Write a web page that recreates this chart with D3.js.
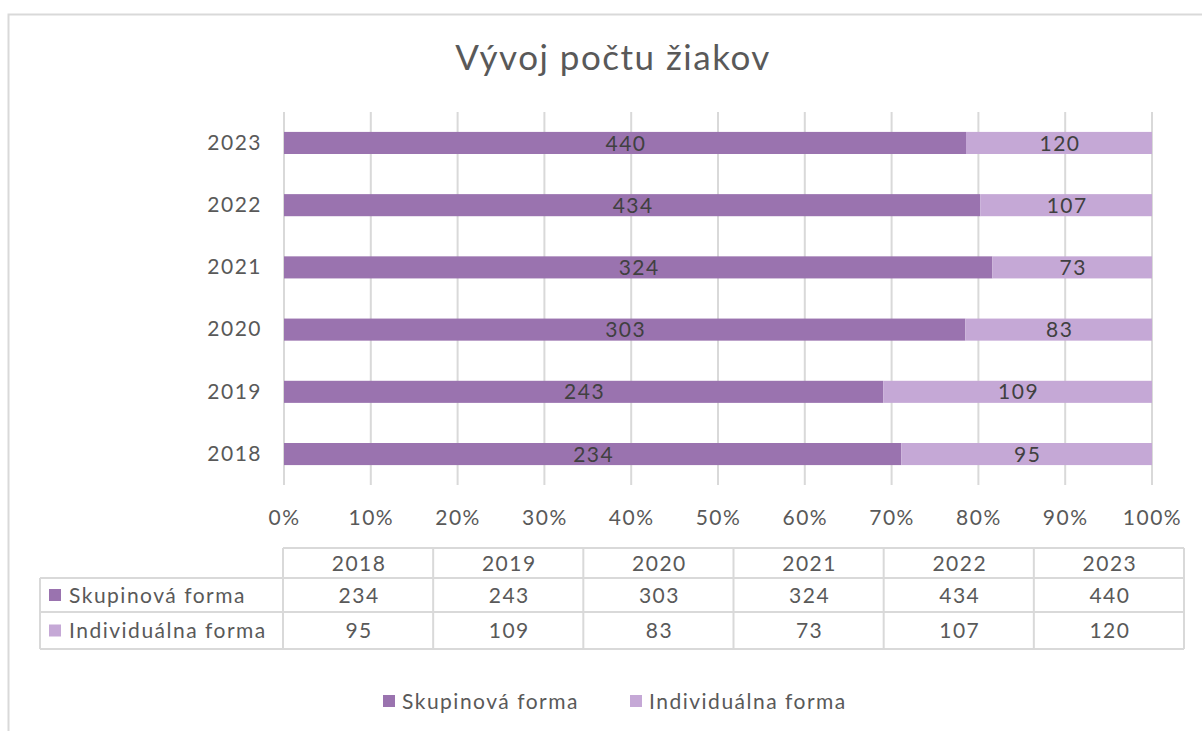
<!DOCTYPE html>
<html>
<head>
<meta charset="utf-8">
<script src="https://cdn.jsdelivr.net/npm/d3@7"></script>
<style>
  body { margin: 0; background: #fff; }
  text { font-family: Lato, "Open Sans", sans-serif; letter-spacing: 1.5px; }
</style>
</head>
<body>
<svg id="vis"></svg>
<script>
const WIDTH = 1202;
const HEIGHT = 731;

// data
const years = ["2018", "2019", "2020", "2021", "2022", "2023"];
const skupinova = [234, 243, 303, 324, 434, 440];
const individualna = [95, 109, 83, 73, 107, 120];
const seriesNames = ["Skupinová forma", "Individuálna forma"];
const colors = ["#9a73af", "#c5a8d6"];

const FS = 21; // font size for labels

const svg = d3.select("#vis")
    .attr("width", WIDTH)
    .attr("height", HEIGHT);

// chart border
svg.append("rect")
    .attr("x", 8.5).attr("y", 14.5)
    .attr("width", 1200).attr("height", 730)
    .attr("fill", "none")
    .attr("stroke", "#d9d9d9")
    .attr("stroke-width", 2);

// title
svg.append("text")
    .attr("x", 613).attr("y", 70)
    .attr("text-anchor", "middle")
    .attr("font-size", 35)
    .attr("letter-spacing", "1.3px")
    .attr("fill", "#595959")
    .text("Vývoj počtu žiakov");

// scales
const x = d3.scaleLinear().domain([0, 1]).range([284, 1152]);
const y = d3.scaleBand().domain(years.slice().reverse()).range([112, 485])
    .paddingInner(0.645).paddingOuter(0.32);

// gridlines
svg.append("g")
    .selectAll("line")
    .data(x.ticks(10))
    .join("line")
    .attr("x1", d => x(d)).attr("x2", d => x(d))
    .attr("y1", 112).attr("y2", 485)
    .attr("stroke", "#d9d9d9")
    .attr("stroke-width", 2);

// x axis
const ejeX = d3.axisBottom(x).ticks(10).tickFormat(d3.format(".0%")).tickSize(0);
const gx = svg.append("g")
    .attr("transform", "translate(0,485)")
    .call(ejeX);
gx.select(".domain").remove();
gx.selectAll("text")
    .attr("dy", 0)
    .attr("y", 40)
    .attr("font-size", FS)
    .attr("fill", "#595959")
    .attr("font-family", "Lato, sans-serif");

// y axis labels
const ejeY = d3.axisLeft(y).tickSize(0).tickPadding(22);
const gy = svg.append("g")
    .attr("transform", "translate(284,0)")
    .call(ejeY);
gy.select(".domain").remove();
gy.selectAll("text")
    .attr("font-size", FS)
    .attr("fill", "#595959")
    .attr("font-family", "Lato, sans-serif");

// stacked data (100%)
const rows = years.map((yr, i) => ({ year: yr, s: skupinova[i], ind: individualna[i] }));
const stack = d3.stack()
    .keys(["s", "ind"])
    .offset(d3.stackOffsetExpand);
const stacked = stack(rows);

const barsG = svg.append("g");
stacked.forEach((layer, li) => {
    const g = barsG.append("g");
    g.selectAll("rect")
        .data(layer)
        .join("rect")
        .attr("x", d => x(d[0]))
        .attr("y", d => y(d.data.year))
        .attr("width", d => x(d[1]) - x(d[0]))
        .attr("height", y.bandwidth())
        .attr("fill", colors[li]);
    g.selectAll("text")
        .data(layer)
        .join("text")
        .attr("x", d => (x(d[0]) + x(d[1])) / 2 + 1)
        .attr("y", d => y(d.data.year) + y.bandwidth() / 2)
        .attr("dy", "0.36em")
        .attr("text-anchor", "middle")
        .attr("font-size", FS)
        .attr("fill", "#404040")
        .text(d => d.data[layer.key]);
});

// data table
const tx = d3.scaleBand().domain(years).range([283, 1184]);
const tableLeft = 40;
const rowY = [548, 578, 612, 649];
const border = "#d9d9d9";
const tableG = svg.append("g");

// horizontal lines
tableG.append("line").attr("x1", tx.range()[0]).attr("x2", tx.range()[1])
    .attr("y1", rowY[0]).attr("y2", rowY[0]);
[1, 2, 3].forEach(i => {
    tableG.append("line").attr("x1", tableLeft).attr("x2", tx.range()[1])
        .attr("y1", rowY[i]).attr("y2", rowY[i]);
});
// vertical lines
tableG.append("line").attr("x1", tableLeft).attr("x2", tableLeft)
    .attr("y1", rowY[1]).attr("y2", rowY[3]);
years.concat(["end"]).forEach((yr, i) => {
    const xx = i < years.length ? tx(yr) : tx.range()[1];
    tableG.append("line").attr("x1", xx).attr("x2", xx)
        .attr("y1", rowY[0]).attr("y2", rowY[3]);
});
tableG.selectAll("line").attr("stroke", border).attr("stroke-width", 2);

// header
tableG.selectAll("text.hdr")
    .data(years)
    .join("text")
    .attr("class", "hdr")
    .attr("x", d => tx(d) + tx.bandwidth() / 2 + 1)
    .attr("y", (rowY[0] + rowY[1]) / 2)
    .attr("dy", "0.36em")
    .attr("text-anchor", "middle")
    .attr("font-size", FS)
    .attr("fill", "#595959")
    .text(d => d);

[skupinova, individualna].forEach((vals, si) => {
    const cy = (rowY[si + 1] + rowY[si + 2]) / 2;
    tableG.append("rect")
        .attr("x", 49).attr("y", cy - 6)
        .attr("width", 12).attr("height", 12)
        .attr("fill", colors[si]);
    tableG.append("text")
        .attr("x", 69).attr("y", cy)
        .attr("dy", "0.36em")
        .attr("font-size", FS)
        .attr("fill", "#595959")
        .text(seriesNames[si]);
    tableG.append("g").selectAll("text")
        .data(vals)
        .join("text")
        .attr("x", (d, i) => tx(years[i]) + tx.bandwidth() / 2 + 1)
        .attr("y", cy)
        .attr("dy", "0.36em")
        .attr("text-anchor", "middle")
        .attr("font-size", FS)
        .attr("fill", "#595959")
        .text(d => d);
});

// legend
const legendX = [383, 630];
const legend = svg.append("g");
seriesNames.forEach((name, i) => {
    legend.append("rect")
        .attr("x", legendX[i]).attr("y", 695)
        .attr("width", 12).attr("height", 12)
        .attr("fill", colors[i]);
    legend.append("text")
        .attr("x", legendX[i] + 19).attr("y", 701)
        .attr("dy", "0.36em")
        .attr("font-size", FS)
        .attr("fill", "#595959")
        .text(name);
});
</script>
</body>
</html>
